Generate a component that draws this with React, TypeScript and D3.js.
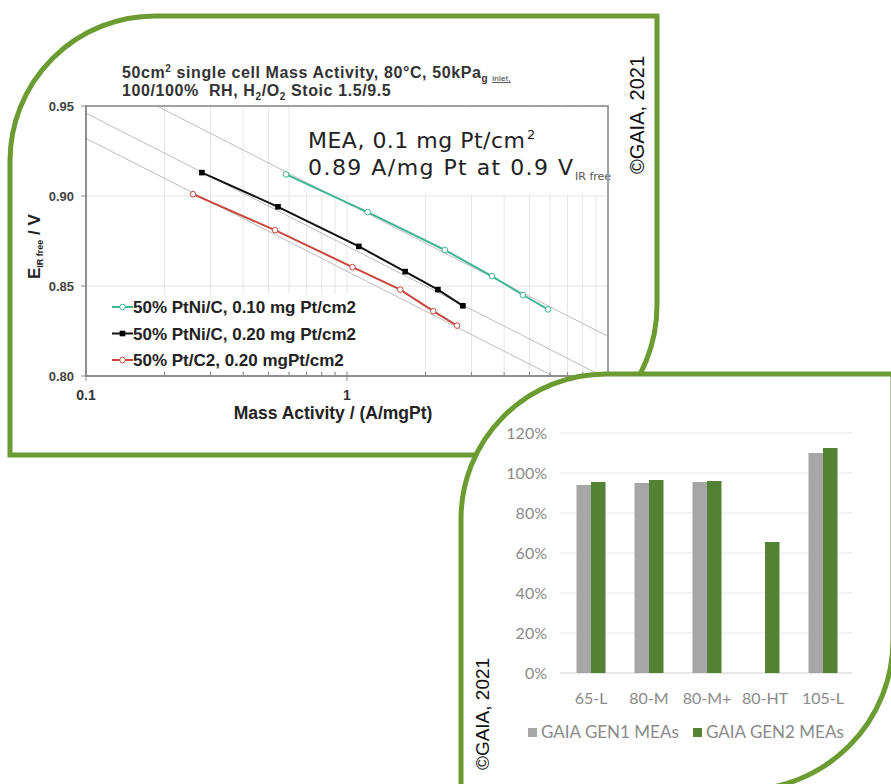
import React from 'react';
import * as d3 from 'd3';

// ---- top chart data (mass activity, Tafel plot) ----
const seriesNames = [
  '50% PtNi/C, 0.10 mg Pt/cm2',
  '50% PtNi/C, 0.20 mg Pt/cm2',
  '50% Pt/C2, 0.20 mgPt/cm2',
];
const ptni010X = [0.584, 1.2, 2.37, 3.59, 4.72, 5.89];
const ptni010Y = [0.912, 0.891, 0.87, 0.8555, 0.845, 0.837];
const ptni020X = [0.278, 0.544, 1.11, 1.67, 2.23, 2.78];
const ptni020Y = [0.913, 0.894, 0.872, 0.858, 0.848, 0.839];
const ptc020X = [0.257, 0.53, 1.05, 1.6, 2.14, 2.64];
const ptc020Y = [0.901, 0.881, 0.8605, 0.848, 0.836, 0.828];
// gray guide lines (start / end in data units)
const guideX = [[0.187, 10], [0.1, 9.5], [0.1, 6.15]];
const guideY = [[0.95, 0.822], [0.946, 0.8], [0.932, 0.8]];
const yTicks = [0.8, 0.85, 0.9, 0.95];
const xLabels = [0.1, 1, 10];

// ---- bottom chart data ----
const categories = ['65-L', '80-M', '80-M+', '80-HT', '105-L'];
const gen1 = [0.94, 0.95, 0.955, null, 1.1];
const gen2 = [0.955, 0.965, 0.96, 0.655, 1.125];
const barTicks = [0, 0.2, 0.4, 0.6, 0.8, 1.0, 1.2];
const barSeries = ['GAIA GEN1 MEAs', 'GAIA GEN2 MEAs'];

const GREEN_FRAME = '#6a9c32';
const colors = ['#3fb596', '#111111', '#c9463d'];
const barColors = ['#a6a6a6', '#548235'];

const ARIAL = '"Liberation Sans", Arial, sans-serif';

function framePath(l, t, r, b, rTL, rBR) {
  // square top-right and bottom-left corners, rounded top-left / bottom-right
  return `M${l},${t + rTL} A${rTL},${rTL} 0 0 1 ${l + rTL},${t} L${r},${t} L${r},${b - rBR} A${rBR},${rBR} 0 0 1 ${r - rBR},${b} L${l},${b} Z`;
}

function TopChart() {
  const x = d3.scaleLog().domain([0.1, 10]).range([86, 608]);
  const y = d3.scaleLinear().domain([0.8, 0.95]).range([376, 106]);
  const line = d3.line<[number, number]>().x(d => x(d[0])).y(d => y(d[1]));
  const allX = [ptni010X, ptni020X, ptc020X];
  const allY = [ptni010Y, ptni020Y, ptc020Y];
  const series = allX.map((xs, i) => xs.map((v, j) => [v, allY[i][j]] as [number, number]));
  const minor = x.ticks();

  const marker = (i, cx, cy, key) =>
    i === 1 ? (
      <rect key={key} x={cx - 2.8} y={cy - 2.8} width={5.6} height={5.6} fill="#000" />
    ) : (
      <circle key={key} cx={cx} cy={cy} r={2.8} fill="#fff" stroke={colors[i]} strokeWidth={1} />
    );

  return (
    <g>
      {/* title */}
      <text x={122} y={78} fontFamily={ARIAL} fontWeight="bold" fontSize={16} letterSpacing={0.6} fill="#333">
        50cm<tspan fontSize={10} dy={-6}>2</tspan>
        <tspan dy={6}> single cell Mass Activity, 80°C, 50kPa</tspan>
        <tspan fontSize={10} dy={4}>g</tspan>
        <tspan fontSize={8} dx={4} dy={-1} textDecoration="underline" fontWeight="normal" letterSpacing={0.3}>inlet,</tspan>
      </text>
      <text x={122} y={96} fontFamily={ARIAL} fontWeight="bold" fontSize={16} letterSpacing={0.6} fill="#333"
        style={{ whiteSpace: 'pre' }}>
        100/100%  RH, H<tspan fontSize={10} dy={4}>2</tspan>
        <tspan dy={-4}>/O</tspan>
        <tspan fontSize={10} dy={4}>2</tspan>
        <tspan dy={-4}> Stoic 1.5/9.5</tspan>
      </text>

      {/* grid */}
      {minor.map((t, i) => (
        <line key={'vg' + i} x1={x(t)} x2={x(t)} y1={106} y2={376} stroke="#e6e6e6" strokeWidth={1} />
      ))}
      {yTicks.map((t, i) => (
        <line key={'hg' + i} x1={86} x2={608} y1={y(t)} y2={y(t)} stroke="#e4e4e4" strokeWidth={1} />
      ))}

      {/* annotation box */}
      <rect x={296} y={108} width={310} height={86} fill="#fff" />
      <text x={308} y={148} fontFamily="DejaVu Sans, sans-serif" fontSize={22} fill="#222"
        textLength={217} lengthAdjust="spacing">
        MEA, 0.1 mg Pt/cm
      </text>
      <text x={527} y={139} fontFamily="DejaVu Sans, sans-serif" fontSize={13} fill="#222">2</text>
      <text x={308} y={175} fontFamily="DejaVu Sans, sans-serif" fontSize={22} fill="#222"
        textLength={265} lengthAdjust="spacing">
        0.89 A/mg Pt at 0.9 V
      </text>
      <text x={575} y={180} fontFamily="DejaVu Sans, sans-serif" fontSize={11} fill="#555">IR free</text>

      {/* guide lines */}
      {guideX.map((gx, i) => (
        <path key={'gl' + i} d={line(gx.map((v, j) => [v, guideY[i][j]] as [number, number])) || ''}
          fill="none" stroke="#bdbdbd" strokeWidth={1} />
      ))}

      {/* series */}
      {series.map((pts, i) => (
        <g key={'s' + i}>
          <path d={line(pts) || ''} fill="none" stroke={colors[i]} strokeWidth={2} />
          {pts.map((p, j) => marker(i, x(p[0]), y(p[1]), 'm' + j))}
        </g>
      ))}

      {/* legend */}
      <rect x={108} y={294} width={256} height={76} fill="#fff" />
      {seriesNames.map((n, i) => (
        <g key={'lg' + i} transform={`translate(112,${307 + i * 26.5})`}>
          <line x1={0} x2={21} y1={0} y2={0} stroke={colors[i]} strokeWidth={2} />
          {marker(i, 10.5, 0, 'lm')}
          <text x={21} y={6} fontFamily={ARIAL} fontWeight="bold" fontSize={17} fill="#222">{n}</text>
        </g>
      ))}

      {/* plot frame and axes */}
      <rect x={86} y={106} width={522} height={270} fill="none" stroke="#999" strokeWidth={1.8} />
      <line x1={86} x2={86} y1={106} y2={376} stroke="#888" strokeWidth={1.5} />
      <line x1={86} x2={608} y1={376} y2={376} stroke="#888" strokeWidth={1.5} />
      {yTicks.map((t, i) => (
        <g key={'yt' + i}>
          <line x1={81} x2={86} y1={y(t)} y2={y(t)} stroke="#888" />
          <text x={74} y={y(t) + 4.5} textAnchor="end" fontFamily={ARIAL} fontWeight="bold" fontSize={13} fill="#444">
            {d3.format('.2f')(t)}
          </text>
        </g>
      ))}
      {minor.map((t, i) => (
        <line key={'xt' + i} x1={x(t)} x2={x(t)} y1={372} y2={xLabels.includes(t) ? 381 : 376} stroke="#888" />
      ))}
      {xLabels.map((t, i) => (
        <text key={'xl' + i} x={x(t)} y={400} textAnchor="middle" fontFamily={ARIAL} fontWeight="bold" fontSize={14} fill="#333">
          {String(t)}
        </text>
      ))}
      <text x={333} y={419} textAnchor="middle" fontFamily={ARIAL} fontWeight="bold" fontSize={17.5} fill="#222">
        Mass Activity / (A/mgPt)
      </text>
      <text transform="translate(40,279) rotate(-90)" fontFamily={ARIAL} fontWeight="bold" fontSize={17} fill="#222">
        E<tspan fontSize={9} dy={3}>IR free</tspan>
        <tspan dy={-3}> / V</tspan>
      </text>

      <text transform="translate(644,115) rotate(-90)" textAnchor="middle" fontFamily={ARIAL} fontSize={20} fill="#111">
        ©GAIA, 2021
      </text>
    </g>
  );
}

function BarChart() {
  const x0 = d3.scaleBand().domain(categories).range([562, 852]).paddingInner(0.5).paddingOuter(0.25);
  const x1 = d3.scaleBand().domain(['g1', 'g2']).range([0, x0.bandwidth()]);
  const y = d3.scaleLinear().domain([0, 1.2]).range([673, 433]);
  const pct = d3.format('.0%');
  const LATO = 'Lato, "Open Sans", sans-serif';
  return (
    <g>
      {barTicks.map((t, i) => (
        <g key={'bt' + i}>
          <line x1={560} x2={852} y1={y(t)} y2={y(t)} stroke={t === 0 ? '#d0d0d0' : '#e6e6e6'} strokeWidth={1} />
          <text x={547} y={y(t) + 6} textAnchor="end" fontFamily={LATO} fontSize={16} fill="#8a8a8a">{pct(t)}</text>
        </g>
      ))}
      {categories.map((c, i) => (
        <g key={'c' + i} transform={`translate(${x0(c)},0)`}>
          {gen1[i] != null && (
            <rect x={x1('g1')} y={y(gen1[i] as number)} width={x1.bandwidth()} height={y(0) - y(gen1[i] as number)} fill={barColors[0]} />
          )}
          <rect x={x1('g2')} y={y(gen2[i])} width={x1.bandwidth()} height={y(0) - y(gen2[i])} fill={barColors[1]} />
          <text x={x0.bandwidth() / 2} y={704} textAnchor="middle" fontFamily={LATO} fontSize={16} fill="#8a8a8a">{c}</text>
        </g>
      ))}
      {barSeries.map((s, i) => (
        <g key={'bl' + i} transform={`translate(${528 + i * 165},732)`}>
          <rect x={0} y={-4} width={9} height={9} fill={barColors[i]} />
          <text x={13} y={6} fontFamily={LATO} fontSize={17} fill="#8a8a8a">{s}</text>
        </g>
      ))}
      <text transform="translate(489,714) rotate(-90)" textAnchor="middle" fontFamily={ARIAL} fontSize={19} fill="#111">
        ©GAIA, 2021
      </text>
    </g>
  );
}

export default function App() {
  return (
    <svg width={891} height={784} style={{ position: 'absolute', left: 0, top: 0, background: '#fff' }}>
      <rect width={891} height={784} fill="#fff" />
      <TopChart />
      <path d={framePath(10, 16, 657, 455, 145, 150)} fill="none" stroke={GREEN_FRAME} strokeWidth={5} />
      <path d={framePath(461, 374, 893, 790, 145, 150)} fill="#fff" stroke={GREEN_FRAME} strokeWidth={5} />
      <BarChart />
    </svg>
  );
}
